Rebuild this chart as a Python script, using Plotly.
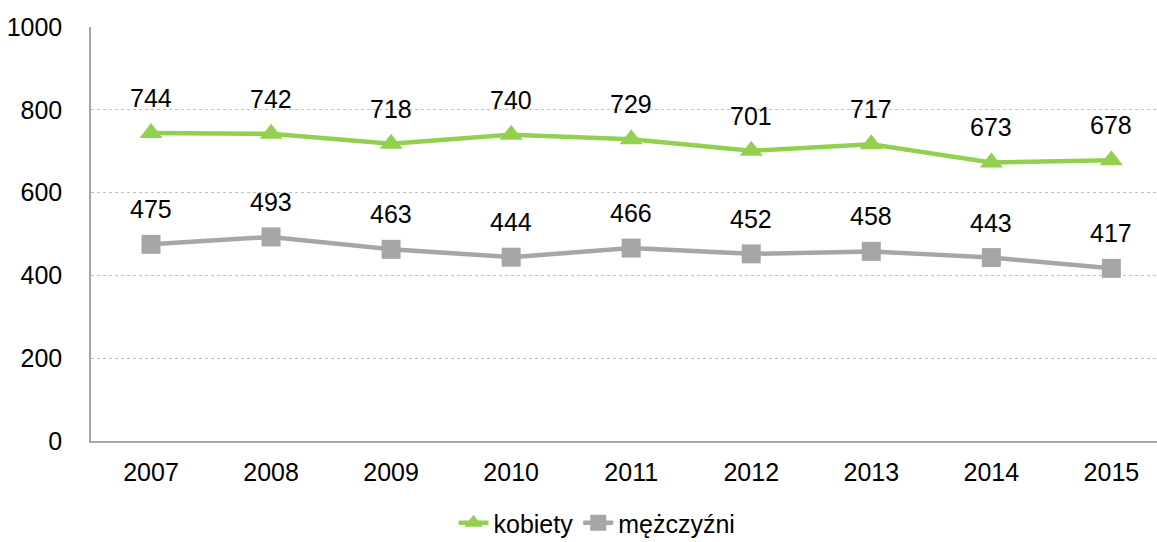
import plotly.graph_objects as go

years = ['2007', '2008', '2009', '2010', '2011', '2012', '2013', '2014', '2015']
kobiety = [744, 742, 718, 740, 729, 701, 717, 673, 678]
mezczyzni = [475, 493, 463, 444, 466, 452, 458, 443, 417]

font = 'Liberation Sans, Arial, sans-serif'

fig = go.Figure()

fig.add_trace(go.Scatter(
    x=years, y=kobiety,
    mode='lines+markers',
    name='kobiety',
    line=dict(color='#92D050', width=4.5),
    marker=dict(symbol='triangle-up', size=20, color='#92D050'),
))

fig.add_trace(go.Scatter(
    x=years, y=mezczyzni,
    mode='lines+markers',
    name='mężczyźni',
    line=dict(color='#A6A6A6', width=4.5),
    marker=dict(symbol='square', size=19, color='#A6A6A6'),
))

# data labels above the points
for series in (kobiety, mezczyzni):
    for i, v in enumerate(series):
        fig.add_annotation(
            xref='x', yref='y',
            x=i, y=v, text=str(v),
            showarrow=False, yshift=35,
            font=dict(size=25, color='#000000', family=font),
        )

fig.update_layout(
    width=1157, height=542,
    template='plotly_white',
    plot_bgcolor='white',
    paper_bgcolor='white',
    font=dict(family=font, size=25, color='#000000'),
    margin=dict(l=91, r=0, t=27, b=101),
    xaxis=dict(
        type='category',
        range=[-0.5, 8.38],
        showgrid=False,
        showline=True, linecolor='#A6A6A6', linewidth=1.5,
        ticks='', tickfont=dict(size=25), ticklabelstandoff=8,
        zeroline=False, automargin=False,
    ),
    yaxis=dict(
        range=[0, 1000],
        dtick=200,
        showgrid=True, gridcolor='#BFBFBF', griddash='dot', gridwidth=1,
        showline=True, linecolor='#A6A6A6', linewidth=1.5,
        ticks='', tickfont=dict(size=25), ticklabelstandoff=22,
        zeroline=False, automargin=False,
    ),
    showlegend=True,
    legend=dict(
        orientation='h',
        xref='container', yref='container',
        x=0.516, xanchor='center',
        y=0.035, yanchor='middle',
        font=dict(size=25),
    ),
)

# drop the default page margin so the figure fills the window
fig.write_html('out.html', post_script="document.body.style.margin='0';",
               config={'displayModeBar': False})
